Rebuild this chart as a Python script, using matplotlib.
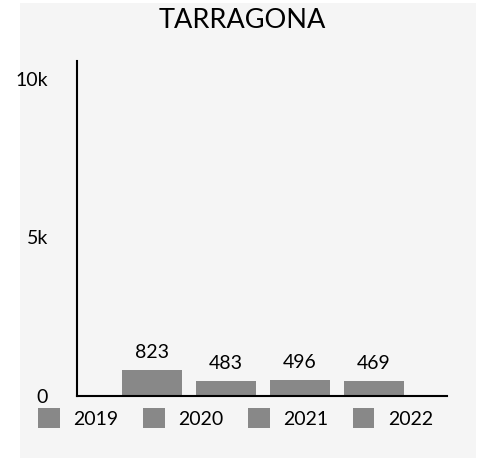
import matplotlib.pyplot as plt
from matplotlib.patches import Rectangle
import numpy as np

plt.rcParams['font.family'] = ['Lato', 'DejaVu Sans']

# datos
title = "TARRAGONA"
years = ['2019', '2020', '2021', '2022']
values = [823, 483, 496, 469]
yticks = [0, 5000, 10000]
ytick_labels = ['0', '5k', '10k']

bar_color = '#888888'
panel_color = '#f5f5f5'

fig = plt.figure(figsize=(4.84, 4.58), dpi=100)
fig.patch.set_facecolor('white')
# fondo gris claro del panel
fig.patches.append(Rectangle((20 / 484, 0), 456 / 484, 455 / 458,
                             transform=fig.transFigure, facecolor=panel_color,
                             edgecolor='none', zorder=-5))

ax = fig.add_axes([77 / 484, 62 / 458, 370 / 484, 335 / 458])
ax.set_facecolor('none')

offsets = np.arange(len(years)) - (len(years) - 1) / 2
for off, yr, val in zip(offsets, years, values):
    ax.bar(off, val, width=0.81, color=bar_color, label=yr)
    ax.annotate(str(val), (off, val), xytext=(0, 6.5), textcoords='offset points',
                ha='center', va='bottom', fontsize=14)

ax.set_xlim(-2.51, 2.49)
ax.set_ylim(0, 10560)
ax.set_xticks([])
ax.set_yticks(yticks)
ax.set_yticklabels(ytick_labels, fontsize=14)
ax.tick_params(axis='y', length=0, pad=21)

for s in ['top', 'right']:
    ax.spines[s].set_visible(False)
for s in ['left', 'bottom']:
    ax.spines[s].set_linewidth(1.5)
    ax.spines[s].set_color('black')

fig.text(0.5, 1 - 20 / 458, title, ha='center', va='center', fontsize=19.5)

fig.legend(loc='center left', bbox_to_anchor=(38 / 484, 1 - 418 / 458), ncol=4,
           frameon=False, fontsize=14, handlelength=1.12, handleheight=1.2,
           handletextpad=0.7, columnspacing=1.25, borderpad=0, borderaxespad=0)

fig.savefig('out.png', dpi=100)
